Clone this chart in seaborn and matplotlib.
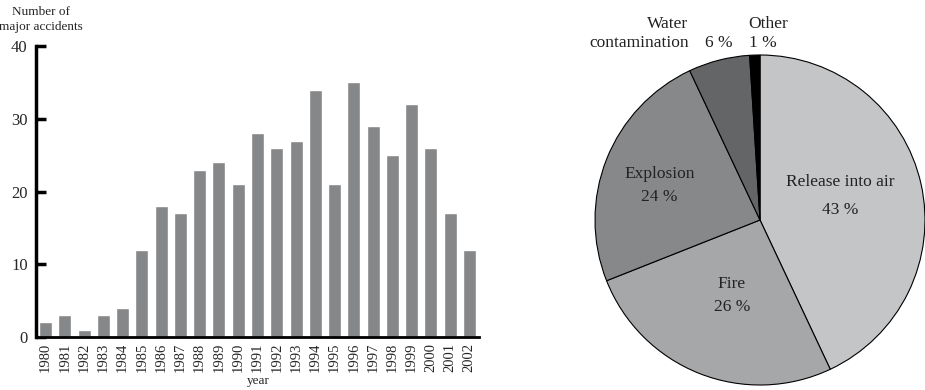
import matplotlib
matplotlib.use("Agg")
import matplotlib.pyplot as plt
import seaborn as sns
import pandas as pd

# bar chart data
years = [str(y) for y in range(1980, 2003)]
accidents = [2, 3, 1, 3, 4, 12, 18, 17, 23, 24, 21, 28, 26, 27, 34, 21, 35, 29, 25, 32, 26, 17, 12]

# pie chart data
causes = ["Release into air", "Fire", "Explosion", "Water contamination", "Other"]
shares = [43, 26, 24, 6, 1]
pie_colors = ["#c4c5c7", "#a6a7a9", "#87888a", "#646567", "#000000"]

sns.set_style("white")
plt.rcParams["font.family"] = ["Liberation Serif", "DejaVu Serif"]

fig = plt.figure(figsize=(9.25, 3.9), dpi=100)

# ---- bar chart ----
ax = fig.add_axes([36 / 925, 53 / 390, 443 / 925, 291 / 390])
df = pd.DataFrame({"year": years, "n": accidents})
sns.barplot(data=df, x="year", y="n", color="#868789", saturation=1, width=0.675, ax=ax)
ax.set_xlim(-0.5, 22.5)
ax.set_ylim(0, 40)
ax.set_yticks([0, 10, 20, 30, 40])
ax.set_xlabel("")
ax.set_ylabel("")
for s in ["top", "right"]:
    ax.spines[s].set_visible(False)
ax.spines["left"].set_linewidth(2.5)
ax.spines["bottom"].set_linewidth(2)
ax.spines["left"].set_color("black")
ax.spines["bottom"].set_color("black")
ax.tick_params(axis="y", left=True, direction="in", length=7, width=2.5,
               color="black", labelsize=12, pad=6)
ax.tick_params(axis="x", bottom=False, length=0, labelsize=10.5, rotation=90, pad=4)
fig.text(41 / 925, 1 - 12 / 390, "Number of", ha="center", va="center", fontsize=9.5)
fig.text(41 / 925, 1 - 27 / 390, "major accidents", ha="center", va="center", fontsize=9.5)
fig.text(258 / 925, 1 - 381 / 390, "year", ha="center", va="center", fontsize=9.5)

# ---- pie chart ----
ax2 = fig.add_axes([595 / 925, 5 / 390, 330 / 925, 330 / 390])
ax2.pie(shares, colors=pie_colors, startangle=90, counterclock=False,
        wedgeprops={"edgecolor": "black", "linewidth": 0.8})
ax2.set_xlim(-1, 1)
ax2.set_ylim(-1, 1)
ax2.set_aspect("equal")
ax2.axis("off")

txt = dict(ha="center", va="center", fontsize=12.5, color="#222222", clip_on=False)
ax2.text(0.485, 0.23, "Release into air", **txt)
ax2.text(0.485, 0.06, "43 %", **txt)
ax2.text(-0.17, -0.39, "Fire", **txt)
ax2.text(-0.17, -0.53, "26 %", **txt)
ax2.text(-0.61, 0.28, "Explosion", **txt)
ax2.text(-0.61, 0.14, "24 %", **txt)
ax2.text(-0.56, 1.19, "Water", **txt)
ax2.text(-0.73, 1.07, "contamination", **txt)
ax2.text(-0.25, 1.07, "6 %", **txt)
ax2.text(0.05, 1.19, "Other", **txt)
ax2.text(0.02, 1.07, "1 %", **txt)

fig.savefig("out.png", dpi=100)
